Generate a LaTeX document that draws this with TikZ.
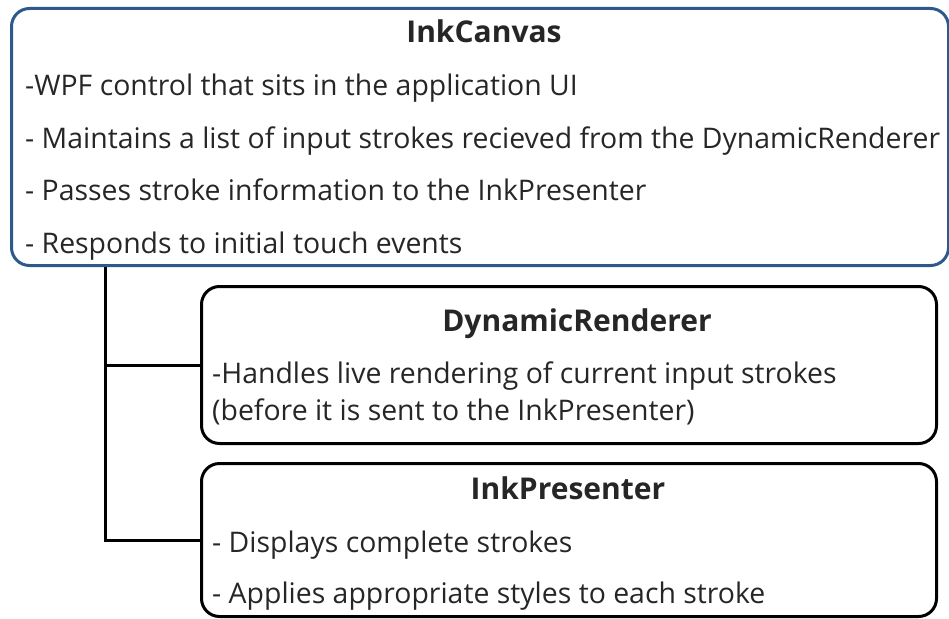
\documentclass[tikz,border=0pt]{standalone}
\usepackage{fontspec}
\setmainfont{Open Sans}
\usetikzlibrary{positioning}
\usepackage{xcolor}
\definecolor{canvasCol}{HTML}{2C5A8C}
\definecolor{textCol}{HTML}{262626}

\begin{document}
\begin{tikzpicture}[
    x=1pt, y=-1pt,
    panel/.style={rectangle, draw=black, line width=3pt, rounded corners=18pt, inner sep=0pt, anchor=north west},
    heading/.style={font=\fontsize{30}{30}\selectfont\bfseries, text=textCol, anchor=base, inner sep=0pt},
    item/.style={font=\fontsize{28.4}{28.4}\selectfont, text=textCol, anchor=base west, inner sep=0pt},
    link/.style={line width=3pt, draw=black}
]
\useasboundingbox (0,0) rectangle (949,618);

% =====================================================================
% TOP PANEL: INKCANVAS
% =====================================================================
\node[panel, draw=canvasCol, minimum width=937pt, minimum height=257pt] (CANVAS) at (10,7) {};
\node[heading] (tCanvas) at (484,42) {InkCanvas};
\node[item] (c1) at (25,95) {-WPF control that sits in the application UI};
\node[item] (c2) at (25,148) {- Maintains a list of input strokes recieved from the DynamicRenderer};
\node[item] (c3) at (25,200) {- Passes stroke information to the InkPresenter};
\node[item] (c4) at (25,253) {- Responds to initial touch events};

% =====================================================================
% CHILD PANELS
% =====================================================================

% 1. DynamicRenderer
\node[panel, minimum width=735pt, minimum height=157pt] (DYN) at (200,285) {};
\node[heading] (tDyn) at (577,331) {DynamicRenderer};
\node[item] (d1) at (212,383) {-Handles live rendering of current input strokes};
\node[item] (d2) at (212,420) {(before it is sent to the InkPresenter)};

% 2. InkPresenter
\node[panel, minimum width=735pt, minimum height=153pt] (INK) at (200,462) {};
\node[heading] (tInk) at (568,499) {InkPresenter};
\node[item] (i1) at (212,552) {- Displays complete strokes};
\node[item] (i2) at (212,603) {- Applies appropriate styles to each stroke};

% =====================================================================
% EDGES
% =====================================================================
\coordinate (trunk) at ([xshift=95pt]CANVAS.south west);
\draw[link] (trunk) |- (DYN.west);
\draw[link] (trunk) |- (INK.west);

\end{tikzpicture}
\end{document}
